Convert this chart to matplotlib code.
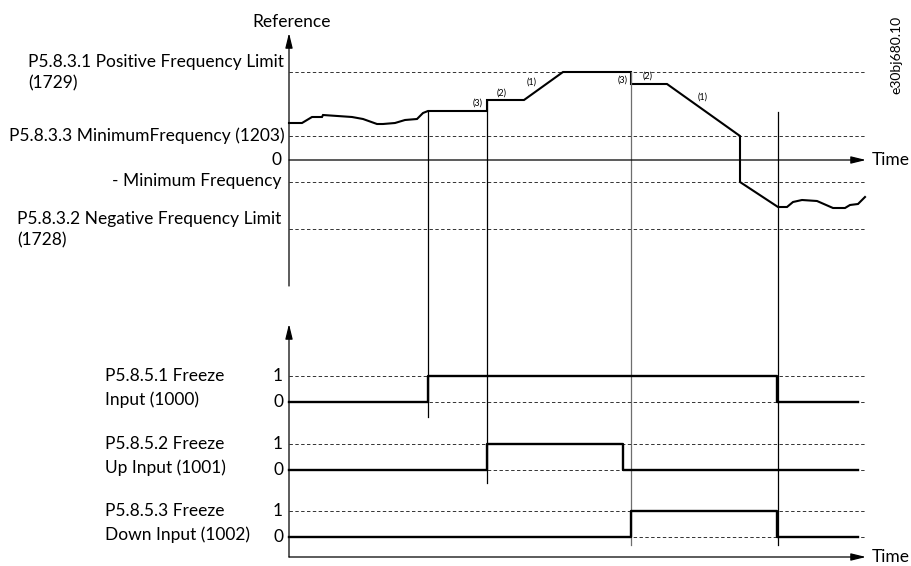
import matplotlib
matplotlib.use("Agg")
import matplotlib.pyplot as plt

plt.rcParams['font.family'] = ['Lato', 'DejaVu Sans']

# ---- data (time axis in diagram units, reference in diagram units, y grows downward) ----
ref_t = [289, 302, 312, 322, 323, 352, 363, 377, 383, 395, 405, 417, 423, 428,
         487, 487, 524, 563, 631, 631, 667, 740, 740, 778, 787, 793, 802, 817,
         833, 845, 850, 858, 865]
ref_v = [123, 123, 117, 117, 115, 117, 119, 124, 124, 123, 120, 119, 113, 111,
         111, 100, 100, 72, 72, 84, 84, 136, 182, 207, 207, 202, 200, 201,
         208, 208, 205, 204, 197]

ref_levels = [72, 136, 182, 229]          # +limit, +min, -min, -limit
zero_level = 160
event_t = [428, 487, 631, 778]
event_top = [111, 100, 72, 112]
event_bottom = [417, 483, 545, 545]
event_color = ['black', 'black', '#6e6e6e', 'black']

sig_t = [289, 428, 487, 623, 631, 777, 858]
sig1 = [0, 1, 1, 1, 1, 0, 0]
sig2 = [0, 0, 1, 0, 0, 0, 0]
sig3 = [0, 0, 0, 0, 1, 0, 0]
sig_hi = [376, 444, 511]
sig_lo = [402, 470, 537]

step_labels = ["(3)", "(2)", "(1)", "(3)", "(2)", "(1)"]
step_t = [478, 502, 532, 623, 648, 703]
step_v = [103, 93, 82, 80, 76, 97]

fig = plt.figure(figsize=(9.11, 5.66), dpi=100)
ax = fig.add_axes([0, 0, 1, 1])
ax.set_xlim(0, 911)
ax.set_ylim(566, 0)
ax.axis('off')

fs = 12.5
x0 = 289
xend = 865
dash = (0, (3.5, 2.5))
arrow = dict(arrowstyle='-|>,head_width=0.22,head_length=0.9', lw=0.9,
             color='black', shrinkA=0, shrinkB=0)

# top axes
ax.annotate('', xy=(x0, 33), xytext=(x0, 286), arrowprops=arrow)
ax.annotate('', xy=(866, zero_level), xytext=(x0, zero_level), arrowprops=arrow)
ax.text(872, zero_level, 'Time', fontsize=fs, va='center', ha='left')
ax.text(331, 22, 'Reference', fontsize=fs, va='center', ha='right')

for lv in ref_levels:
    ax.plot([x0, xend], [lv, lv], color='#333333', lw=0.7, ls=dash)

ax.text(28, 62, 'P5.8.3.1 Positive Frequency Limit', fontsize=fs, va='center', ha='left')
ax.text(28, 83, '(1729)', fontsize=fs, va='center', ha='left')
ax.text(285, 136, 'P5.8.3.3 MinimumFrequency (1203)', fontsize=fs, va='center', ha='right')
ax.text(282, 160, '0', fontsize=fs, va='center', ha='right')
ax.text(282, 181, '- Minimum Frequency', fontsize=fs, va='center', ha='right')
ax.text(17, 219, 'P5.8.3.2 Negative Frequency Limit', fontsize=fs, va='center', ha='left')
ax.text(17, 240, '(1728)', fontsize=fs, va='center', ha='left')

ax.plot(ref_t, ref_v, color='black', lw=1.5, solid_joinstyle='miter')

for lab, t, v in zip(step_labels, step_t, step_v):
    ax.text(t, v, lab, fontsize=6.5, ha='center', va='center')

# event lines
for t, a, b, c in zip(event_t, event_top, event_bottom, event_color):
    ax.plot([t, t], [a, b], color=c, lw=0.9)

# bottom axes
ax.annotate('', xy=(x0, 324), xytext=(x0, 557), arrowprops=arrow)
ax.annotate('', xy=(866, 557), xytext=(x0, 557), arrowprops=arrow)
ax.text(872, 557, 'Time', fontsize=fs, va='center', ha='left')

sig_names = [('P5.8.5.1 Freeze', 'Input (1000)'),
             ('P5.8.5.2 Freeze', 'Up Input (1001)'),
             ('P5.8.5.3 Freeze', 'Down Input (1002)')]
for sig, hi, lo, names in zip([sig1, sig2, sig3], sig_hi, sig_lo, sig_names):
    for lv in (hi, lo):
        ax.plot([x0, xend], [lv, lv], color='#333333', lw=0.7, ls=dash)
    yv = [lo + (hi - lo) * s for s in sig]
    ax.step(sig_t, yv, where='post', color='black', lw=1.7)
    ax.text(283, hi, '1', fontsize=fs, va='center', ha='right')
    ax.text(283, lo, '0', fontsize=fs, va='center', ha='right')
    ax.text(105, hi, names[0], fontsize=fs, va='center', ha='left')
    ax.text(105, lo - 2, names[1], fontsize=fs, va='center', ha='left')

ax.text(896, 55, 'e30bj680.10', fontsize=10, rotation=90, va='center', ha='center')

fig.savefig('out.png', dpi=100)
